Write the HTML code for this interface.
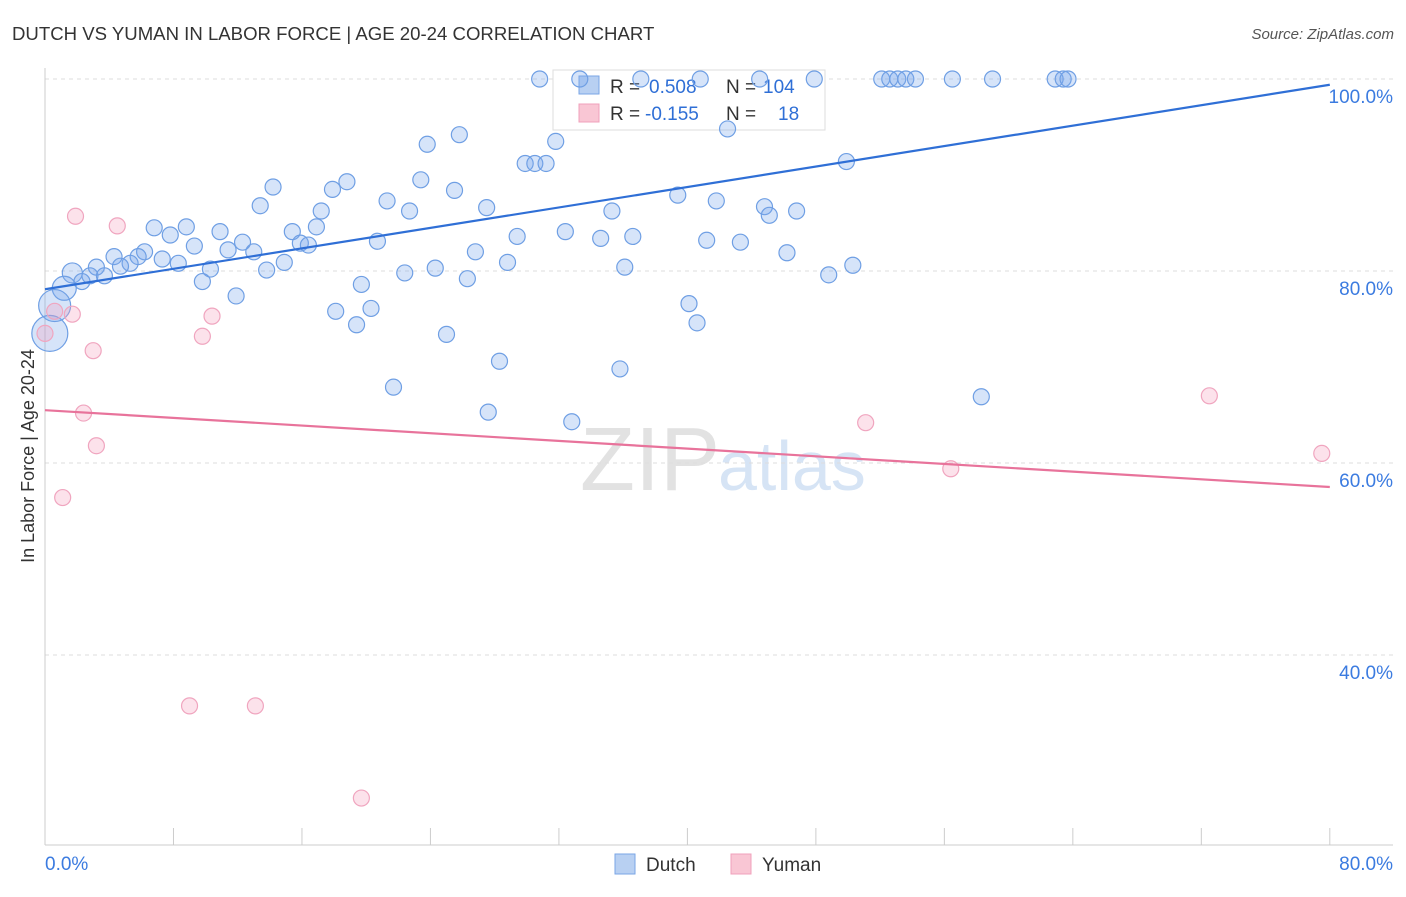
<!DOCTYPE html>
<html><head><meta charset="utf-8"><style>
body{margin:0;background:#fff;font-family:"Liberation Sans",sans-serif;}
svg text{font-family:"Liberation Sans",sans-serif;}
</style></head><body>
<svg id="chart" width="1406" height="892">
<text x="12" y="40" font-size="18.6" fill="#333">DUTCH VS YUMAN IN LABOR FORCE | AGE 20-24 CORRELATION CHART</text>
<text x="1394" y="39" font-size="15" fill="#555" font-style="italic" text-anchor="end">Source: ZipAtlas.com</text>
<text x="34" y="456" font-size="18" fill="#333" text-anchor="middle" transform="rotate(-90 34 456)">In Labor Force | Age 20-24</text>
<text x="720" y="490" font-size="90" fill="#e2e2e2" text-anchor="end" font-family="Liberation Serif">ZIP</text>
<text x="718" y="490" font-size="70" fill="#d6e4f5">atlas</text>
<g id="grid"></g><g id="axes"></g>
<g>
<rect x="553" y="70" width="272" height="60" fill="#fff" stroke="#ddd"/>
<rect x="579" y="76" width="20" height="18" fill="#b8d0f2" stroke="#7aa6e6"/>
<rect x="579" y="104" width="20" height="18" fill="#f9c6d4" stroke="#f0a0bb"/>
<text x="610" y="93" font-size="19" fill="#333">R = </text>
<text x="649" y="93" font-size="19" fill="#2f6fd6">0.508</text>
<text x="726" y="93" font-size="19" fill="#333">N =</text>
<text x="763" y="93" font-size="19" fill="#2f6fd6">104</text>
<text x="610" y="120" font-size="19" fill="#333">R = </text>
<text x="645" y="120" font-size="19" fill="#2f6fd6">-0.155</text>
<text x="726" y="120" font-size="19" fill="#333">N =</text>
<text x="778" y="120" font-size="19" fill="#2f6fd6">18</text>
</g>
<g id="pts"></g><g id="trend"></g>
<g>
<rect x="615" y="854" width="20" height="20" fill="#b8d0f2" stroke="#7aa6e6"/>
<text x="646" y="871" font-size="19" fill="#333">Dutch</text>
<rect x="731" y="854" width="20" height="20" fill="#f9c6d4" stroke="#f0a0bb"/>
<text x="762" y="871" font-size="19" fill="#333">Yuman</text>
</g>
</svg>
<script>
const dutchX=[30.8,33.3,37.1,40.8,44.5,47.9,52.1,52.6,53.1,53.6,54.2,56.5,59.0,62.9,63.4,63.7,42.5,25.8,23.8,31.8,29.9,30.5,31.2,49.9,14.2,17.9,18.8,23.4,25.5,21.3,13.4,22.7,27.5,39.4,41.8,35.3,44.8,45.1,46.8,17.2,6.8,8.8,10.9,7.8,15.4,16.9,29.4,32.4,34.6,36.6,41.2,43.3,20.7,9.3,12.3,15.9,16.4,6.2,11.4,13.0,26.8,46.2,4.3,5.8,7.3,8.3,5.3,4.7,28.8,14.9,10.3,13.8,22.4,24.3,36.1,50.3,48.8,3.2,1.7,2.8,3.7,2.3,1.2,26.3,9.8,11.9,19.7,40.1,18.1,20.3,19.4,40.6,25.0,28.3,35.8,21.7,27.6,32.8,58.3,0.3,0.6];
const dutchY=[100,100,100,100,100,100,100,100,100,100,100,100,100,100,100,100,94.8,94.2,93.2,93.5,91.2,91.2,91.2,91.4,88.75,88.5,89.3,89.5,88.4,87.3,86.8,86.25,86.6,87.9,87.3,86.25,86.7,85.8,86.25,86.25,84.5,84.6,84.1,83.75,84.1,84.6,83.6,84.1,83.4,83.6,83.2,83.0,83.1,82.6,83.0,82.9,82.7,82.0,82.2,82.0,82.0,81.9,81.5,81.5,81.25,80.8,80.8,80.5,80.9,80.9,80.2,80.1,79.8,80.3,80.4,80.6,79.6,80.4,79.8,79.5,79.5,78.9,78.2,79.2,78.9,77.4,78.6,76.6,75.8,76.1,74.4,74.6,73.4,70.6,69.8,67.9,65.3,64.3,66.9,73.5,76.4];
const dutchR=[8,8,8,8,8,8,8,8,8,8,8,8,8,8,8,8,8,8,8,8,8,8,8,8,8,8,8,8,8,8,8,8,8,8,8,8,8,8,8,8,8,8,8,8,8,8,8,8,8,8,8,8,8,8,8,8,8,8,8,8,8,8,8,8,8,8,8,8,8,8,8,8,8,8,8,8,8,8,10,8,8,8,12,8,8,8,8,8,8,8,8,8,8,8,8,8,8,8,8,18,16];
const yumanX=[1.9,4.5,0.6,1.7,10.4,9.8,3.0,0.0,2.4,3.2,1.1,9.0,13.1,19.7,51.1,56.4,72.5,79.5];
const yumanY=[85.7,84.7,75.8,75.5,75.3,73.2,71.7,73.5,65.2,61.8,56.4,34.7,34.7,25.1,64.2,59.4,67.0,61.0];
const dutchTrend=[78.1,99.4];
const yumanTrend=[65.5,57.5];
const yTicks=[100,80,60,40];
const xTickLabels=["0.0%","80.0%"];
const NS="http://www.w3.org/2000/svg";
const sx=v=>45+v*16.06, sy=v=>79+(100-v)*9.6;
function mk(tag,attrs,parent){const e=document.createElementNS(NS,tag);for(const k in attrs)e.setAttribute(k,attrs[k]);document.getElementById(parent).appendChild(e);return e;}
yTicks.forEach(t=>{
 let l=mk('line',{x1:45,x2:1393,y1:sy(t),y2:sy(t),stroke:'#ddd','stroke-dasharray':'4,4'},'grid');
 
 
 let tx=mk('text',{x:1393,y:sy(t)+24,'font-size':19,fill:'#3b7be0','text-anchor':'end'},'grid');tx.textContent=t.toFixed(1)+'%';
 
 
});
let ax=mk('line',{x1:45,x2:1393,y1:845,y2:845,stroke:'#ccc'},'axes');


let ay=mk('line',{x1:45,x2:45,y1:68,y2:845,stroke:'#ccc'},'axes');


for(let i=0;i<=10;i++){let v=i*8;let t=mk('line',{x1:sx(v),x2:sx(v),y1:828,y2:845,stroke:'#ccc'},'axes');
 
 }
[[0,'start'],[80,'end']].forEach((p,i)=>{let t=mk('text',{x:i?1393:45,y:870,'font-size':19,fill:'#3b7be0','text-anchor':p[1]},'axes');t.textContent=xTickLabels[i];
 
 });
dutchX.forEach((x,i)=>{let c=mk('circle',{cx:sx(x),cy:sy(dutchY[i]),r:dutchR[i],fill:'rgba(120,165,235,0.3)',stroke:'#6f9fe4','stroke-width':1.2},'pts');
 
 });
yumanX.forEach((x,i)=>{let c=mk('circle',{cx:sx(x),cy:sy(yumanY[i]),r:8,fill:'rgba(245,160,190,0.3)',stroke:'#f0a5bf','stroke-width':1.2},'pts');
 
 });
let tl=mk('line',{x1:sx(0),x2:sx(80),y1:sy(dutchTrend[0]),y2:sy(dutchTrend[1]),stroke:'#2f6fd6','stroke-width':2.2},'trend');


let tl2=mk('line',{x1:sx(0),x2:sx(80),y1:sy(yumanTrend[0]),y2:sy(yumanTrend[1]),stroke:'#e8739b','stroke-width':2.2},'trend');


</script>
</body></html>
